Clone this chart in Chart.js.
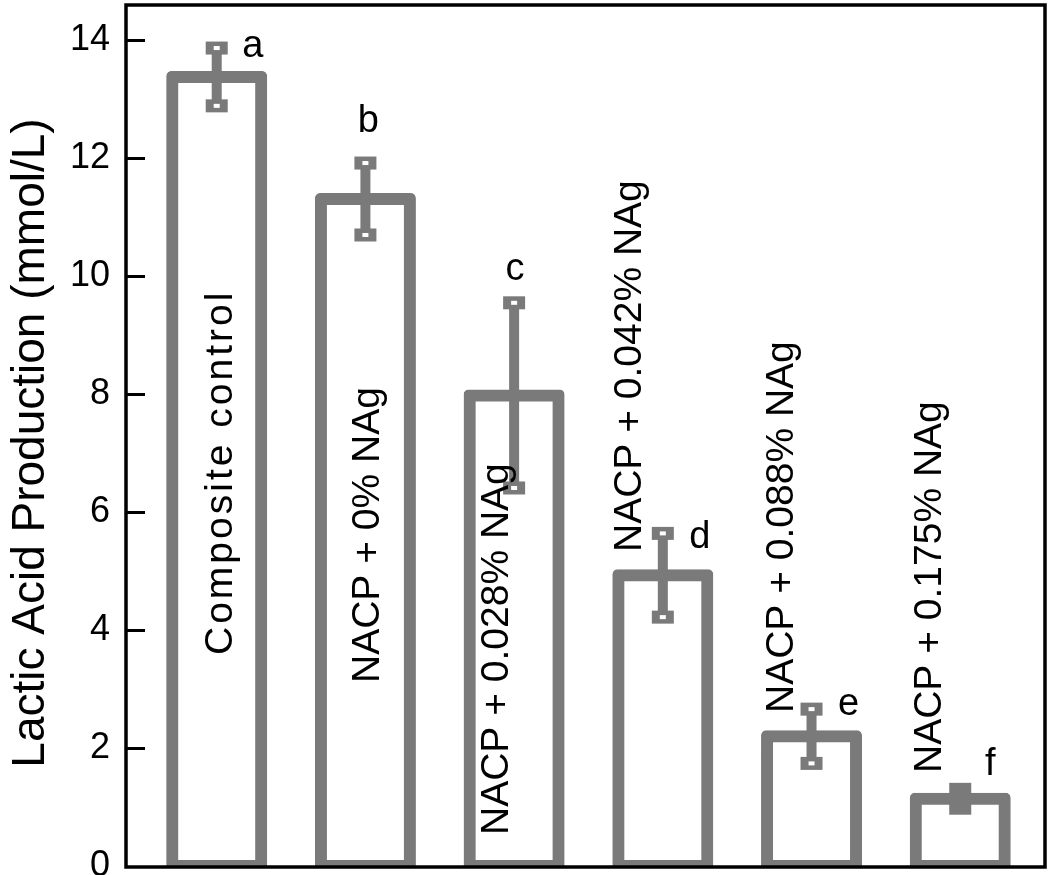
<!DOCTYPE html>
<html>
<head>
<meta charset="utf-8">
<script src="https://cdn.jsdelivr.net/npm/chart.js@4.4.0/dist/chart.umd.min.js"></script>
<style>
  html, body { margin: 0; padding: 0; background: #fff; }
  #wrap { width: 1050px; height: 875px; }
</style>
</head>
<body>
<div id="wrap"><canvas id="chart"></canvas></div>
<script>
const groups = ["Composite control", "NACP + 0% NAg", "NACP + 0.028% NAg", "NACP + 0.042% NAg", "NACP + 0.088% NAg", "NACP + 0.175% NAg"];
const lactic = [13.38, 11.31, 7.98, 4.93, 2.2, 1.14];
const lacticErr = [0.49, 0.61, 1.57, 0.71, 0.46, 0.16];
const letters = ["a", "b", "c", "d", "e", "f"];
const yTicks = [0, 2, 4, 6, 8, 10, 12, 14];
const yTitle = "Lactic Acid Production (mmol/L)";

const GRAY = "#7a7a7a";
const FONT = "'Liberation Sans', Arial, Helvetica, sans-serif";

// label placement inside the bars (x offset from bar centre, pixel y where text starts, spacing)
const labelDx = [5, 3, -17, -33, -29, -30];
const labelStart = [655, 683, 835, 552, 713, 773];
const labelSpacing = [3, 0, 0, 0, 0, 0];
// significance letters, offset from the top of the error bar
const letterDx = [36, 3, 1, 37, 37, 30];
const letterDy = [-2, -42, -33, 4, -5, -25];

const overlay = {
  id: "overlay",
  afterDatasetsDraw(chart) {
    const { ctx, chartArea: a, scales: { x, y } } = chart;
    ctx.save();

    // error bars
    lactic.forEach((v, i) => {
      const px = x.getPixelForValue(i);
      const top = y.getPixelForValue(v + lacticErr[i]);
      const bot = y.getPixelForValue(v - lacticErr[i]);
      ctx.fillStyle = GRAY;
      ctx.fillRect(px - 5, top, 10, bot - top);
      [top, bot].forEach(py => {
        ctx.fillStyle = GRAY;
        ctx.fillRect(px - 11, py - 6.5, 22, 13);
      });
      if (bot - top > 25) {
        ctx.fillStyle = "#fff";
        [top, bot].forEach(py => ctx.fillRect(px - 3, py - 2, 6, 4));
      }
    });

    ctx.fillStyle = "#000";
    ctx.textBaseline = "middle";

    // axis title
    ctx.save();
    ctx.font = "46px " + FONT;
    ctx.textAlign = "center";
    ctx.translate(31, 443);
    ctx.rotate(-Math.PI / 2);
    ctx.fillText(yTitle, 0, 0);
    ctx.restore();

    // group names written up the bars
    ctx.textAlign = "left";
    ctx.font = "39px " + FONT;
    groups.forEach((g, i) => {
      ctx.save();
      ctx.letterSpacing = labelSpacing[i] + "px";
      ctx.translate(x.getPixelForValue(i) + labelDx[i], labelStart[i]);
      ctx.rotate(-Math.PI / 2);
      ctx.fillText(g, 0, 0);
      ctx.restore();
    });

    // letters
    ctx.font = "38px " + FONT;
    ctx.textAlign = "center";
    letters.forEach((t, i) => {
      const top = y.getPixelForValue(lactic[i] + lacticErr[i]);
      ctx.fillText(t, x.getPixelForValue(i) + letterDx[i], top + letterDy[i]);
    });

    // frame and inward ticks
    ctx.strokeStyle = "#000";
    ctx.lineWidth = 3.5;
    ctx.strokeRect(a.left, a.top, a.right - a.left, a.bottom - a.top + 1);
    ctx.lineWidth = 3;
    yTicks.forEach(v => {
      if (v === 0) return;
      const py = Math.round(y.getPixelForValue(v)) + 0.5;
      ctx.beginPath();
      ctx.moveTo(a.left, py);
      ctx.lineTo(a.left + 19, py);
      ctx.stroke();
    });
    ctx.restore();
  }
};

new Chart(document.getElementById("chart"), {
  type: "bar",
  data: {
    datasets: [{
      data: lactic.map((v, i) => ({ x: i, y: v })),
      backgroundColor: "#fff",
      borderColor: GRAY,
      borderWidth: 12,
      borderSkipped: false,
      borderRadius: 5,
      inflateAmount: 6,
      barThickness: 89
    }]
  },
  options: {
    animation: false,
    responsive: true,
    maintainAspectRatio: false,
    layout: { padding: { top: 5, right: 5, bottom: 9, left: 0 } },
    plugins: { legend: { display: false }, tooltip: { enabled: false } },
    scales: {
      x: {
        type: "linear",
        display: false,
        offset: false,
        min: -0.61,
        max: 5.57
      },
      y: {
        min: 0,
        max: 14.6,
        afterFit: s => { s.width = 126; s.paddingTop = 0; s.paddingBottom = 0; },
        afterBuildTicks: s => { s.ticks = yTicks.map(v => ({ value: v })); },
        grid: { display: false, drawTicks: false },
        border: { display: false },
        ticks: {
          color: "#000",
          padding: 16,
          font: { family: FONT, size: 36 }
        }
      }
    }
  },
  plugins: [overlay]
});
</script>
</body>
</html>
